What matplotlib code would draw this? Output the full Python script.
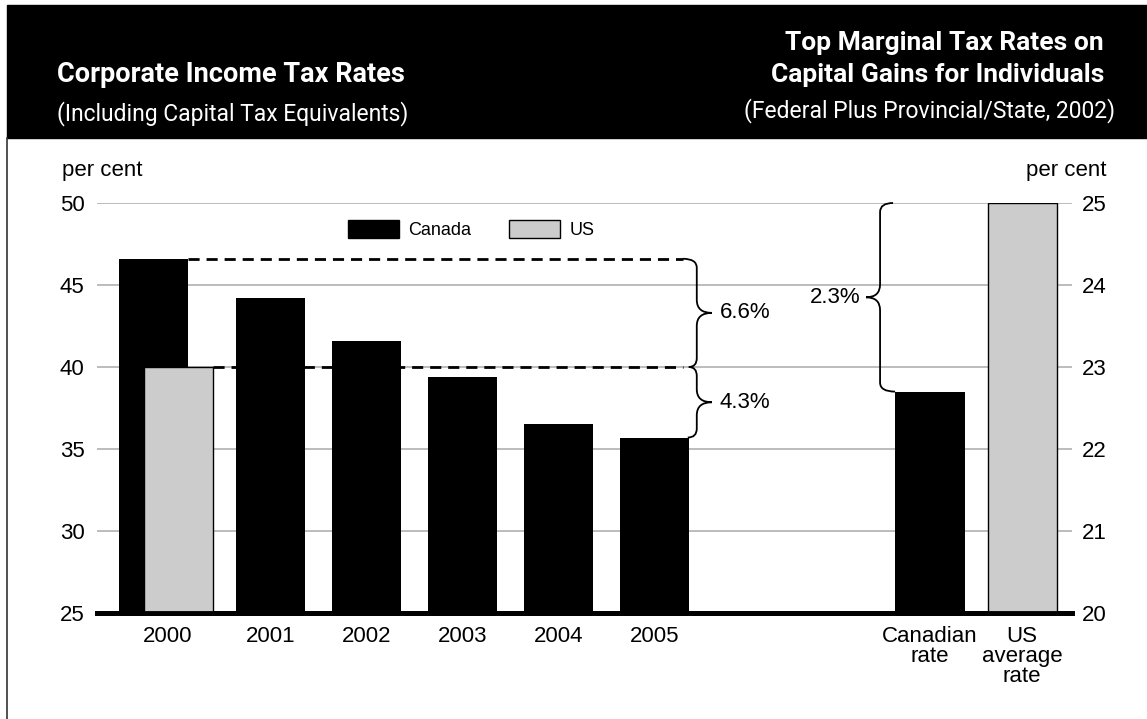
import matplotlib
matplotlib.use("Agg")
import matplotlib.pyplot as plt
from matplotlib.path import Path
from matplotlib.patches import PathPatch, Rectangle, Patch
from matplotlib.lines import Line2D

plt.rcParams['font.family'] = ['Liberation Sans', 'DejaVu Sans']

# ------------------------------------------------------------------------------
# data
years = ['2000', '2001', '2002', '2003', '2004', '2005']
canada = [46.6, 44.2, 41.6, 39.4, 36.5, 35.7]   # corporate rate, per cent
us_2000 = 40.0
cg_labels = ['Canadian\nrate', 'US\naverage\nrate']
cg_rates = [22.7, 25.0]                           # capital gains, per cent
gaps = ['6.6%', '4.3%', '2.3%']

# layout
W, H = 1147, 719
xmin, xmax = -0.81, 9.35
ppx = 975 / (xmax - xmin)      # pixels per x unit
ppy_l = 410 / 25               # pixels per unit on left scale
ppy_r = 410 / 5                # pixels per unit on right scale
bw = 0.72
canada_pos = [-0.22, 1, 2, 3, 4, 5]
year_pos = [-0.07, 1, 2, 3, 4, 5]
us_pos = 0.04
cg_pos = [7.87, 8.83]
grey = '#cccccc'

fig = plt.figure(figsize=(W / 100, H / 100), dpi=100)


def fx(px):
    return px / W


def fy(py):
    return 1 - py / H


# header band and left frame line
fig.patches.append(Rectangle((fx(7), fy(138)), 1 - fx(7), fy(5) - fy(138),
                             transform=fig.transFigure, color='black', zorder=0))
fig.lines.append(Line2D([fx(7), fx(7)], [fy(138), 0], transform=fig.transFigure,
                        color='#333333', lw=1.2))

title_font = ['Roboto', 'DejaVu Sans']
fig.text(fx(57), fy(82), 'Corporate Income Tax Rates', color='white',
         fontsize=19.5, fontweight='bold', family=title_font, va='baseline')
fig.text(fx(57), fy(120), '(Including Capital Tax Equivalents)', color='white',
         fontsize=16.5, family=title_font, va='baseline')
fig.text(fx(1104), fy(50), 'Top Marginal Tax Rates on', color='white',
         fontsize=19, fontweight='bold', family=title_font, va='baseline', ha='right')
fig.text(fx(1104), fy(82), 'Capital Gains for Individuals', color='white',
         fontsize=19, fontweight='bold', family=title_font, va='baseline', ha='right')
fig.text(fx(1115), fy(117), '(Federal Plus Provincial/State, 2002)', color='white',
         fontsize=16.5, family=title_font, va='baseline', ha='right')

fig.text(fx(62), fy(176), 'per cent', fontsize=16, va='baseline')
fig.text(fx(1107), fy(176), 'per cent', fontsize=16, va='baseline', ha='right')

# ------------------------------------------------------------------------------
ax = fig.add_axes([fx(97), fy(613), 975 / W, 410 / H])
ax2 = ax.twinx()

ax.set_xlim(xmin, xmax)
ax.set_ylim(25, 50)
ax2.set_ylim(20, 25)
ax.set_yticks([25, 30, 35, 40, 45, 50])
ax2.set_yticks([20, 21, 22, 23, 24, 25])
ax.yaxis.grid(True, color='#b0b0b0', lw=1.2)
ax.set_axisbelow(True)

for a in (ax, ax2):
    for s in ('top', 'left', 'right'):
        a.spines[s].set_visible(False)
    a.spines['bottom'].set_linewidth(3.5)
    a.tick_params(length=0, labelsize=16)
ax.tick_params(axis='y', pad=9)
ax2.tick_params(axis='y', pad=7)

ax.bar(canada_pos, [v - 25 for v in canada], width=bw, bottom=25,
       color='black', zorder=2)
ax.bar(us_pos, us_2000 - 25, width=bw, bottom=25, color=grey,
       edgecolor='black', lw=1, zorder=3)

ax2.bar(cg_pos[0], cg_rates[0] - 20, width=bw, bottom=20, color='black', zorder=2)
ax2.bar(cg_pos[1], cg_rates[1] - 20, width=bw, bottom=20, color=grey,
        edgecolor='black', lw=1, zorder=2)

ax.set_xticks(year_pos + cg_pos)
ax.set_xticklabels(years + cg_labels, linespacing=0.95)
ax.tick_params(axis='x', pad=9)

# dashed reference lines
dash_end = 5.30
ax.plot([canada_pos[0] + bw / 2, dash_end], [canada[0], canada[0]], color='black',
        lw=2, ls=(0, (4, 2.5)), zorder=4)
ax.plot([us_pos + bw / 2, dash_end], [us_2000, us_2000], color='black',
        lw=2, ls=(0, (4, 2.5)), zorder=4)


def brace(a, xv, ytop, ybot, ppy, d=1, t_top=12, t_bot=12, tip=15, r=9):
    sx = lambda p: p / ppx
    sy = lambda p: p / ppy
    ym = (ytop + ybot) / 2
    verts = [(xv - d * sx(t_top), ytop), (xv, ytop), (xv, ytop - sy(r)),
             (xv, ym + sy(r + 4)), (xv, ym), (xv + d * sx(tip), ym),
             (xv, ym), (xv, ym - sy(r + 4)),
             (xv, ybot + sy(r)), (xv, ybot), (xv - d * sx(t_bot), ybot)]
    codes = [Path.MOVETO, Path.CURVE3, Path.CURVE3, Path.LINETO,
             Path.CURVE3, Path.CURVE3, Path.CURVE3, Path.CURVE3,
             Path.LINETO, Path.CURVE3, Path.CURVE3]
    a.add_patch(PathPatch(Path(verts, codes), fill=False, lw=1.3,
                          edgecolor='black', clip_on=False, zorder=5))
    return ym


bx = 5.44
ym = brace(ax, bx, canada[0], us_2000, ppy_l, t_top=14, t_bot=8)
ax.text(bx + 23 / ppx, ym, gaps[0], fontsize=16, va='center', ha='left')
ym = brace(ax, bx, us_2000, canada[-1], ppy_l, t_top=8, t_bot=9)
ax.text(bx + 23 / ppx, ym, gaps[1], fontsize=16, va='center', ha='left')

bx2 = 7.35
ym = brace(ax2, bx2, cg_rates[1], cg_rates[0], ppy_r, d=-1, t_top=13, t_bot=15, tip=14)
ax2.text(bx2 - 20 / ppx, ym, gaps[2], fontsize=16, va='center', ha='right')

# legend
handles = [Patch(facecolor='black', edgecolor='black', label='Canada'),
           Patch(facecolor=grey, edgecolor='black', lw=1, label='US')]
fig.legend(handles=handles, loc='upper left', bbox_to_anchor=(fx(348), fy(220)),
           ncol=2, frameon=False, fontsize=13, handlelength=2.8, handleheight=1.15,
           handletextpad=0.55, columnspacing=2.1, borderpad=0, borderaxespad=0)

fig.savefig('out.png', dpi=100)
